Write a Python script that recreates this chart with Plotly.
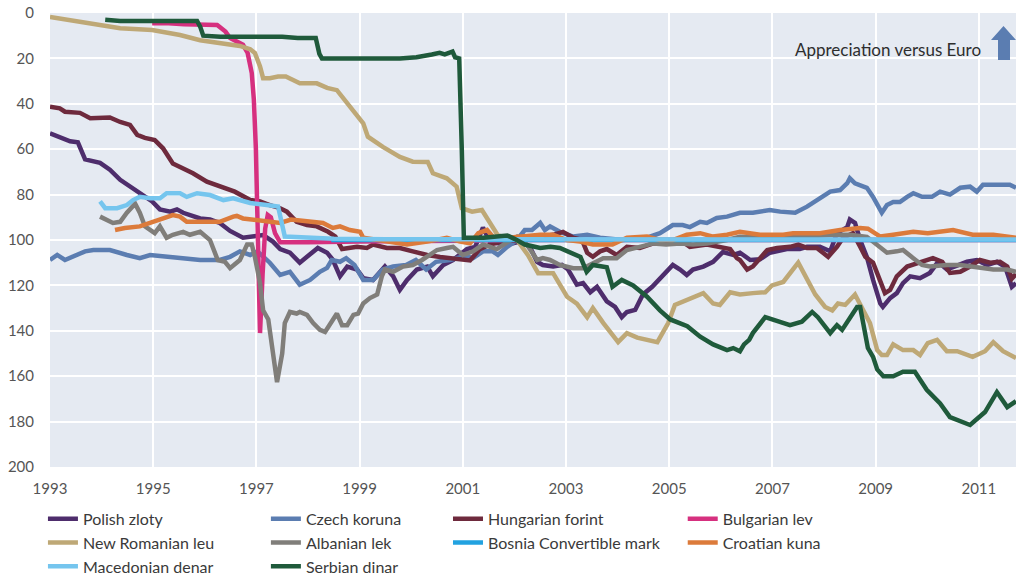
import plotly.graph_objects as go

# ---------------- data (index, decimal year on x, inverted scale) ----------------
pl_x = [1993.00,1993.19,1993.39,1993.54,1993.68,1993.97,1994.16,1994.36,1994.74,1994.98,1995.13,1995.33,1995.46,1995.58,1995.91,1996.10,1996.29,1996.49,1996.74,1996.93,1997.13,1997.32,1997.46,1997.65,1997.84,1997.98,1998.19,1998.37,1998.48,1998.62,1998.76,1998.95,1999.07,1999.26,1999.49,1999.65,1999.78,1999.92,2000.11,2000.31,2000.42,2000.62,2000.81,2001.08,2001.24,2001.39,2001.53,2001.86,2002.11,2002.30,2002.44,2002.55,2002.75,2002.92,2003.04,2003.21,2003.33,2003.47,2003.60,2003.79,2003.95,2004.08,2004.18,2004.34,2004.49,2004.67,2004.88,2005.07,2005.21,2005.34,2005.46,2005.66,2005.85,2006.04,2006.24,2006.37,2006.57,2006.76,2006.95,2007.28,2007.53,2007.67,2007.92,2008.12,2008.25,2008.45,2008.50,2008.60,2008.70,2008.83,2008.95,2009.09,2009.14,2009.28,2009.41,2009.53,2009.67,2009.86,2010.05,2010.21,2010.38,2010.58,2010.77,2010.96,2011.16,2011.35,2011.51,2011.64,2011.72]
pl_y = [53,54.5,56.5,57,64.5,66,69,73.5,79.5,83,86.5,87.5,86.5,88,90.5,91,92.5,96,99,98.5,97.8,100.7,104,105.6,110,107.4,103.5,105.6,108.7,116,111.7,113,116.8,117.6,111.7,116,122,117.6,113,111.7,116,111,108.8,104,103,94.5,101,102,100.7,103,109.6,111,111.7,111,113,119.7,119,123,120.6,127,129.5,134,131.7,130.8,124,120.6,115.4,111,113,115.4,113,111.7,109.6,105.3,106.6,105.6,108.8,108.5,105.6,104,104,103,103,105,97,94.3,91,92.5,100,107.5,117.6,128,129.5,125.6,123.4,119,116,116.8,114.5,109.6,113,111,109.6,108.8,111,109.6,111.8,120.6,119]

cz_x = [1993.00,1993.14,1993.29,1993.58,1993.68,1993.84,1994.16,1994.49,1994.74,1994.94,1995.46,1995.91,1996.29,1996.49,1996.68,1996.88,1997.02,1997.26,1997.46,1997.65,1997.84,1998.04,1998.23,1998.37,1998.46,1998.62,1998.74,1998.90,1999.07,1999.26,1999.45,1999.65,1999.90,2000.09,2000.29,2000.48,2000.75,2001.05,2001.20,2001.39,2001.58,2001.68,2001.86,2002.05,2002.20,2002.34,2002.50,2002.59,2002.69,2002.88,2003.14,2003.41,2003.66,2004.10,2004.57,2004.82,2005.07,2005.26,2005.40,2005.60,2005.73,2005.92,2006.12,2006.37,2006.62,2006.95,2007.15,2007.44,2007.67,2007.92,2008.12,2008.31,2008.45,2008.50,2008.60,2008.83,2008.95,2009.12,2009.22,2009.34,2009.47,2009.61,2009.73,2009.90,2010.09,2010.25,2010.44,2010.64,2010.83,2010.96,2011.08,2011.41,2011.60,2011.72]
cz_y = [108.8,106.6,108.8,105.7,105,104.4,104.4,106.6,108,106.6,108,108.8,108.8,107.4,105,106.6,105,110,115.4,114,119.7,117.6,114,112.3,108.8,109.6,108,111,117.6,117.6,113,111.7,111,108.8,113,109.6,108.8,107,108,105,105,106.6,103,100,95.6,95.6,92.5,95.6,94,96.4,98.5,97.7,99,100,99,97,93.4,93.4,94.3,92,92.5,90.3,89.7,88,88,86.8,87.5,88,85.3,81.6,78.7,78,75,72.8,75,77,81,88,84.6,83.3,83.3,81,79.4,81,81,78.7,80,77,76.5,78.7,75.7,75.7,75.7,77]

hu_x = [1993.00,1993.19,1993.29,1993.58,1993.78,1994.16,1994.36,1994.55,1994.69,1994.84,1995.03,1995.19,1995.38,1995.62,1995.77,1996.04,1996.29,1996.58,1996.88,1997.07,1997.26,1997.46,1997.59,1997.78,1997.98,1998.17,1998.39,1998.53,1998.66,1998.81,1998.95,1999.14,1999.26,1999.53,1999.78,2000.03,2000.31,2000.56,2000.81,2001.14,2001.33,2001.53,2001.86,2002.11,2002.50,2002.75,2002.94,2003.14,2003.31,2003.41,2003.52,2003.66,2003.79,2003.98,2004.18,2004.43,2004.69,2004.94,2005.21,2005.40,2005.73,2006.04,2006.18,2006.31,2006.37,2006.51,2006.62,2006.90,2007.09,2007.34,2007.50,2007.67,2007.86,2008.08,2008.25,2008.37,2008.56,2008.70,2008.80,2008.95,2009.09,2009.18,2009.28,2009.41,2009.61,2009.86,2010.11,2010.29,2010.44,2010.64,2010.83,2011.02,2011.22,2011.41,2011.55,2011.64,2011.72]
hu_y = [41.3,42,43.5,44,46.4,46,48,49.3,53.7,55,56,59.6,66.3,69,70.6,74.3,76.5,78.7,82.4,83,84.6,86,87.5,92,93.4,94,96.4,98.5,104,103.5,103,103.5,102,103.5,103.5,105,106.6,107.5,108,109,104,102,100,100.7,98.5,97.7,96.4,99,100,105.6,107.4,105,104,106.6,103,103.5,101.5,101.5,100,103,102,103.5,104,108,108.8,113,111.7,104.4,103.5,103,102,103.5,103.5,107.4,103,99,97,103,107.4,110,119,123.4,122,116,111.7,110,108,109.6,114.5,114,111.7,108.8,110,109.6,111.7,117,115]

bg_x = [1994.98,1995.30,1995.60,1995.91,1996.24,1996.40,1996.49,1996.74,1996.83,1996.91,1996.95,1996.99,1997.03,1997.07,1997.12,1997.17,1997.22,1997.28,1997.36,1997.46,1998.00,1998.50,1999.00,1999.50,2000.00,2001.00,2002.00,2011.72]
bg_y = [4.5,4.5,5,5,5.3,8.2,11,14,17.6,26.5,38,60,100,141,115,95,89,90,97,101,101,101,100.7,100.5,100.5,100.3,100,100]

ro_x = [1993.00,1993.97,1994.36,1994.98,1995.52,1995.91,1996.43,1996.68,1996.88,1996.97,1997.07,1997.13,1997.26,1997.42,1997.57,1997.84,1998.17,1998.37,1998.56,1998.76,1999.07,1999.16,1999.45,1999.78,2000.03,2000.32,2000.42,2000.69,2000.88,2000.98,2001.18,2001.37,2001.53,2001.68,2002.05,2002.26,2002.46,2002.75,2003.02,2003.21,2003.41,2003.52,2003.72,2004.01,2004.18,2004.38,2004.77,2004.98,2005.11,2005.34,2005.54,2005.66,2005.85,2005.98,2006.18,2006.37,2006.62,2006.86,2006.99,2007.21,2007.50,2007.69,2007.83,2008.02,2008.16,2008.27,2008.41,2008.60,2008.70,2008.89,2009.03,2009.12,2009.22,2009.34,2009.53,2009.73,2009.86,2010.01,2010.19,2010.38,2010.58,2010.88,2011.12,2011.28,2011.47,2011.72]
ro_y = [1.7,5.3,6.7,7.5,9.7,12,14,14.5,16,17.6,23.5,28.7,28.7,28,28,31,31,33,34,40,48.6,54.5,59,63.4,65.5,65.6,70.6,72.8,76.5,86,87.5,86.8,93,98,100,106.6,114.6,114.6,125,128,134,130,136.5,145,141,143,145,136.6,128.6,126.4,125,123.4,128,128.6,123,124,123.4,123,120,118.5,110,117.6,124,129.5,131,128,128.6,124,128,136.6,148.5,150.7,150.7,146,148.5,148.5,150.7,145.4,144,149,149,151.5,149,145,149,152]

al_x = [1993.97,1994.10,1994.22,1994.36,1994.49,1994.65,1994.74,1994.84,1995.03,1995.13,1995.26,1995.38,1995.58,1995.71,1995.91,1996.10,1996.25,1996.39,1996.49,1996.68,1996.82,1996.91,1996.97,1997.07,1997.13,1997.23,1997.32,1997.40,1997.50,1997.55,1997.65,1997.78,1997.84,1997.98,1998.10,1998.23,1998.33,1998.47,1998.56,1998.66,1998.76,1998.88,1998.97,1999.07,1999.20,1999.34,1999.43,1999.49,1999.65,1999.84,2000.03,2000.21,2000.36,2000.50,2000.69,2000.81,2001.00,2001.20,2001.39,2001.66,2001.86,2002.05,2002.24,2002.44,2002.55,2002.69,2002.88,2003.14,2003.33,2003.52,2003.72,2003.98,2004.18,2004.43,2004.69,2004.94,2005.21,2005.46,2005.73,2006.12,2006.37,2007.01,2007.67,2008.12,2008.50,2008.83,2009.03,2009.22,2009.41,2009.53,2009.73,2009.90,2010.05,2010.38,2010.64,2010.88,2011.28,2011.55,2011.72]
al_y = [89.7,91,92.5,92,88,84,88,94,97,94,99,97.7,96.4,97.7,96.4,100,108.8,109.6,112.4,108.8,102,102,107.4,119,131,135,148.5,162.6,150,136.6,131.7,132.4,131.7,133,136.6,139.6,140.5,135,132.4,137.5,137.5,133,132.4,128,125.6,124,116,113,114,111.7,111,108.8,106.6,104.4,103.5,103,106.6,105,102,104,101,98.5,102,108.8,108,108.8,111,112.4,112.4,110,108,108,104.4,103,101.5,102,101.5,102,101.5,100,98.6,99,98.6,97.7,97.7,98.6,102,105.6,105,104.4,108,111,111.7,111,111,111.7,113,113,114]

bo_x = [1998.45,2000.0,2002.0,2004.0,2006.0,2008.0,2010.0,2011.72]
bo_y = [100,100,100,100,100,100,100,100]

hr_x = [1994.26,1994.45,1994.74,1994.94,1995.13,1995.26,1995.38,1995.52,1995.65,1995.91,1996.29,1996.55,1996.62,1996.74,1996.93,1997.20,1997.46,1997.67,1998.04,1998.29,1998.48,1998.62,1998.81,1999.01,1999.07,1999.53,1999.92,2000.31,2000.69,2000.95,2001.14,2001.30,2001.47,2001.62,2001.86,2002.24,2002.50,2002.75,2003.02,2003.27,2003.52,2003.90,2004.18,2004.57,2004.82,2005.07,2005.34,2005.60,2005.85,2006.12,2006.37,2006.76,2007.21,2007.40,2007.92,2008.31,2008.70,2008.85,2009.09,2009.34,2009.73,2010.01,2010.25,2010.50,2010.88,2011.28,2011.72]
hr_y = [95.6,94.7,94,92.5,91,89.7,89,89.7,92,92,92,89.7,89.4,90.5,91,92,92.5,91,92,92.5,94.7,94,95.6,96.4,99,100.7,102,100.7,99,100.7,101.5,97,95.6,99.5,99,98.5,97.7,97.7,100,100.7,102,102,99,98.5,100,100,97.7,97,98.5,97.7,96.4,97.7,97.7,97,97,95.6,94.7,95,98.5,97.7,96.4,97,96.4,95.6,97.7,97.7,99]

mk_x = [1993.97,1994.07,1994.30,1994.49,1994.61,1994.74,1994.94,1995.13,1995.26,1995.52,1995.65,1995.85,1996.10,1996.36,1996.55,1996.88,1997.20,1997.42,1997.55,1997.84,1998.17,1998.50,1999.50,2000.50,2001.50,2011.72]
mk_y = [83,86,86,84.6,82.4,81,81.6,81.6,79.4,79.4,81,79.4,80.2,82.4,81.6,83.7,84.6,85.3,98.5,98.8,99.6,99.5,99.7,99.7,99.8,99.8]

rs_x = [1994.07,1994.36,1994.74,1995.13,1995.52,1995.85,1995.91,1995.97,1996.30,1996.70,1997.10,1997.50,1997.80,1998.15,1998.22,1998.27,1998.60,1999.00,1999.40,1999.78,2000.10,2000.40,2000.55,2000.65,2000.80,2000.85,2000.93,2000.98,2001.02,2001.40,2001.86,2002.00,2002.20,2002.50,2002.70,2002.88,2003.14,2003.28,2003.40,2003.52,2003.79,2003.90,2004.08,2004.30,2004.57,2004.82,2005.02,2005.35,2005.60,2005.85,2006.12,2006.24,2006.37,2006.45,2006.55,2006.62,2006.86,2007.15,2007.34,2007.57,2007.77,2007.88,2008.12,2008.25,2008.35,2008.64,2008.70,2008.85,2008.95,2009.03,2009.15,2009.34,2009.53,2009.76,2009.99,2010.25,2010.44,2010.83,2011.12,2011.35,2011.55,2011.72]
rs_y = [3,3.5,3.5,3.5,3.5,3.5,6,10,10.5,10.5,10.8,10.5,11,11,18,20,20,20.2,20,20,19.5,18.3,17.5,18.2,17,19.5,20,60,99,99,98,99.5,102,103.5,103,103.5,106,107.5,114,111,112,120.6,117.6,120,125,131,135,138,142.6,146,148.5,147.6,149,146,144,141,134,136,137.5,136,131.7,134,141,137.5,139.6,129.5,129.5,147.6,151.5,157,160,160,158,158,166,172,178,181.5,175.8,167,173.6,171]

series = [
    ("Polish zloty", pl_x, pl_y, "#4E2D6C", "legend"),
    ("Czech koruna", cz_x, cz_y, "#5B7DB1", "legend2"),
    ("Hungarian forint", hu_x, hu_y, "#6E2A3D", "legend3"),
    ("Bulgarian lev", bg_x, bg_y, "#D6307F", "legend4"),
    ("New Romanian leu", ro_x, ro_y, "#BEA876", "legend"),
    ("Albanian lek", al_x, al_y, "#807E7A", "legend2"),
    ("Bosnia Convertible mark", bo_x, bo_y, "#22A2E0", "legend3"),
    ("Croatian kuna", hr_x, hr_y, "#DC7B3B", "legend4"),
    ("Macedonian denar", mk_x, mk_y, "#75C5EE", "legend"),
    ("Serbian dinar", rs_x, rs_y, "#1F5A3B", "legend2"),
]

year_ticks = [1993, 1995, 1997, 1999, 2001, 2003, 2005, 2007, 2009, 2011]
index_ticks = [0, 20, 40, 60, 80, 100, 120, 140, 160, 180, 200]

FONT = "Lato, 'Open Sans', sans-serif"

fig = go.Figure()
for name, xs, ys, col, lg in series:
    fig.add_trace(go.Scatter(x=xs, y=ys, mode="lines", name=name,
                             line=dict(color=col, width=4.5), legend=lg))

legend_common = dict(orientation="v", yref="paper", xref="paper", y=-0.0766, yanchor="top",
                     xanchor="left", bgcolor="rgba(0,0,0,0)",
                     font=dict(family=FONT, size=16, color="#3A3A3A"))
fig.update_layout(
    width=1016, height=576,
    margin=dict(l=50, r=0, t=13, b=109, autoexpand=False),
    paper_bgcolor="white", plot_bgcolor="#E5EAF2",
    font=dict(family=FONT, color="#555555"),
    legend=dict(x=-0.0073, **legend_common),
    legend2=dict(x=0.2235, **legend_common),
    legend3=dict(x=0.412, **legend_common),
    legend4=dict(x=0.655, **legend_common),
    xaxis=dict(range=[1993, 2011.72], tickvals=year_ticks, ticktext=[str(v) for v in year_ticks],
               automargin=False,
               showgrid=True, gridcolor="white", gridwidth=2, zeroline=False, showline=False,
               ticks="outside", ticklen=8, tickcolor="rgba(0,0,0,0)",
               tickfont=dict(family=FONT, size=15, color="#555555")),
    yaxis=dict(range=[200, 0], tickvals=index_ticks, automargin=False,
               showgrid=True, gridcolor="white", gridwidth=2, zeroline=False, showline=False,
               ticks="outside", ticklen=12, tickcolor="rgba(0,0,0,0)",
               tickfont=dict(family=FONT, size=15, color="#555555")),
)

def px_x(p):
    return (p - 50) / 966.0

def px_y(p):
    return (467 - p) / 454.0

fig.add_annotation(xref="paper", yref="paper", x=px_x(983), y=px_y(50), xanchor="right", yanchor="middle",
                   text="Appreciation versus Euro", showarrow=False,
                   font=dict(family=FONT, size=17, color="#2E2E2E"))

arrow_path = ("M {sl},{yb} L {sl},{yh} L {hl},{yh} L {tx},{ty} L {hr},{yh} L {sr},{yh} L {sr},{yb} Z"
              .format(sl=px_x(998), sr=px_x(1010), hl=px_x(991), hr=px_x(1016), tx=px_x(1003.5),
                      yb=px_y(60), yh=px_y(40), ty=px_y(26)))
fig.add_shape(type="path", xref="paper", yref="paper", path=arrow_path,
              fillcolor="#5B7DB1", line=dict(width=0), layer="above")

fig.write_html("out.html", config={"displayModeBar": False},
               post_script="document.body.style.margin='0px';document.body.style.overflow='hidden';")
